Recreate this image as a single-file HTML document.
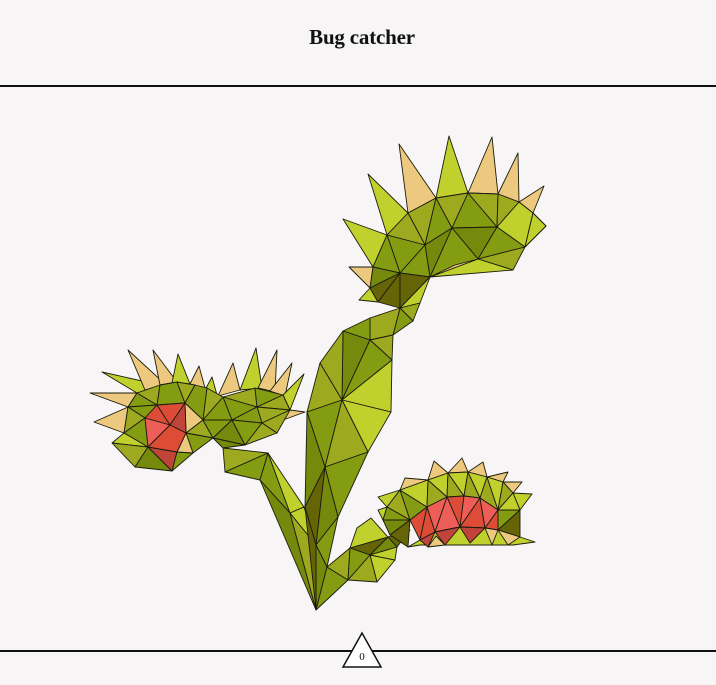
<!DOCTYPE html>
<html><head><meta charset="utf-8"><style>
html,body{margin:0;padding:0;background:#f7f5f6;}
#wrap{position:relative;width:716px;height:685px;overflow:hidden;background:#f7f5f6;}
#title{position:absolute;left:0;top:25px;width:724px;text-align:center;font-family:"Liberation Serif",serif;font-weight:bold;font-size:21px;color:#111;letter-spacing:-0.2px;}
svg{position:absolute;left:0;top:0;}
</style></head><body>
<div id="wrap">
<div id="title">Bug catcher</div>
<svg id="svg" width="716" height="685">
<line x1="0" y1="86" x2="716" y2="86" stroke="#111" stroke-width="2"/>
<line x1="0" y1="651" x2="716" y2="651" stroke="#111" stroke-width="2"/>
<g id="plant"></g>
<g>
<polygon points="362,633 343,667 381,667" fill="#fff" stroke="#111" stroke-width="1.5"/>
<text x="362" y="660" text-anchor="middle" font-family="Liberation Serif, serif" font-size="11" fill="#111">0</text>
</g>
</svg>
</div>
<script>
const C={L:"#c0d12e",M:"#9daa1f",G:"#849c12",D:"#758a0c",K:"#656508",T:"#ecc97e",R:"#dc4c37",P:"#ed5e58",Q:"#c0443a"};
const spikes=[
["T","399,144 408,213 436,198"],["L","449,136 436,198 468,193"],["T","492,137 468,193 498,194"],
["T","518,153 498,194 519,202"],["T","544,186 519,202 533,213"],["L","546,226 533,213 525,247"],
["L","368,174 408,213 387,235"],["L","343,219 387,235 373,267"],["T","349,267 373,267 370,288"],
["L","359,300 370,288 378,302"],
["T","94,422 124,433 128,407"],["T","90,393 128,407 137,393"],["L","102,372 137,393 160,385"],
["T","128,350 145,390 165,384"],["T","153,350 160,385 177,382"],["L","178,354 172,383 190,384"],
["T","199,366 190,384 205,388"],["L","212,377 205,390 217,395"],["T","233,363 218,396 240,390"],
["L","256,348 240,390 262,388"],["T","277,350 258,388 275,392"],["T","292,363 270,391 285,396"],
["L","304,374 283,395 290,410"],["T","305,412 290,410 283,420"],
["T","434,461 428,480 448,473"],["T","462,458 448,473 468,472"],["T","483,462 468,472 487,477"],
["T","508,472 487,477 503,482"],["T","522,482 503,482 513,493"],["L","532,494 513,493 520,510"],
["L","378,497 387,507 400,490"],["T","405,478 400,490 428,480"],["L","378,510 383,520 387,507"]
];
const facets=[
["M","408,213 436,198 425,245"],["G","436,198 452,228 425,245"],["M","436,198 468,193 452,228"],
["G","468,193 497,227 452,228"],["M","468,193 498,194 497,227"],["M","498,194 519,202 497,227"],
["L","519,202 533,213 525,247 497,227"],["L","533,213 546,226 525,247"],["D","452,228 497,227 478,259"],
["G","497,227 525,247 478,259"],["M","525,247 513,270 478,259"],["G","452,228 478,259 430,277"],
["D","425,245 452,228 430,277"],["M","408,213 425,245 387,235"],["G","387,235 425,245 400,273"],
["G","425,245 430,277 400,273"],["G","387,235 400,273 373,267"],["D","373,267 400,273 370,288"],
["K","370,288 400,273 378,302"],["K","378,302 400,273 400,308"],["K","400,273 430,277 400,308"],
["L","478,259 513,270 430,277"],["T","478,259 430,277 455,265"],["L","430,277 400,308 420,303"],
["M","400,308 420,303 413,321"],["G","400,308 413,321 393,335"],["M","400,308 393,335 370,340 370,318"],
["G","370,318 370,340 343,331"],["D","343,331 370,340 342,400"],["M","370,340 393,335 392,360"],
["G","370,340 392,360 342,400"],["M","343,331 342,400 320,363"],["M","320,363 342,400 307,412"],
["L","342,400 392,360 391,412"],["L","342,400 391,412 368,452"],["G","307,412 342,400 325,467"],
["M","342,400 368,452 325,467"],["D","307,412 325,467 305,507"],["G","325,467 368,452 338,517"],
["K","305,507 325,467 316,545"],["D","325,467 338,517 316,545"],["G","316,545 338,517 327,567"],
["D","316,545 327,567 316,610"],
["M","223,448 268,453 225,472"],["G","225,472 268,453 260,480"],["G","260,480 268,453 290,513"],
["L","268,453 304,507 290,513"],["D","260,480 290,513 316,610"],["M","290,513 316,545 316,610"],
["L","290,513 304,507 316,545"],["K","305,507 316,545 316,610"],
["G","316,610 327,567 348,580"],["M","327,567 350,548 348,580"],["K","350,548 388,537 370,555"],
["G","350,548 370,555 348,580"],["L","370,555 395,560 377,582"],["M","348,580 370,555 377,582"],
["L","350,548 357,528 371,518 388,537"],["D","388,537 397,547 370,555"],["L","370,555 397,547 395,560"],
["K","388,537 410,530 397,547"],
["G","128,407 137,393 157,405"],["G","128,407 157,405 145,418"],["M","128,407 145,418 124,433"],
["G","124,433 145,418 148,447"],["L","124,433 148,447 112,443"],["M","112,443 148,447 135,467"],
["D","135,467 148,447 172,471"],["Q","148,447 177,452 172,471"],["G","172,471 177,452 193,453"],
["M","137,393 160,385 157,405"],["G","160,385 177,382 185,403 157,405"],["M","177,382 195,385 185,403"],
["G","195,385 207,388 203,420 185,403"],["T","185,403 203,420 186,433"],["M","186,433 203,420 213,438"],
["G","186,433 213,438 193,453"],["T","186,433 193,453 177,452"],
["R","145,418 157,405 170,425"],["R","157,405 185,403 170,425"],["Q","185,403 186,433 170,425"],
["P","145,418 170,425 148,447"],["R","170,425 186,433 177,452 148,447"],
["M","207,388 223,397 203,420"],["G","223,397 232,420 203,420"],["G","203,420 232,420 213,438"],
["M","223,397 255,388 257,407"],["G","223,397 257,407 232,420"],["G","255,388 283,395 257,407"],
["M","283,395 290,410 257,407"],["M","257,407 290,410 262,423"],["M","290,410 277,433 262,423"],
["G","232,420 257,407 262,423"],["D","213,438 232,420 245,445"],["G","232,420 262,423 245,445"],
["M","262,423 277,433 245,445"],["D","213,438 245,445 223,448"],
["M","387,507 400,490 410,520"],["G","400,490 427,507 410,520"],["L","400,490 428,480 427,507"],
["M","428,480 447,497 427,507"],["L","428,480 448,473 447,497"],["M","448,473 464,496 447,497"],
["L","448,473 468,472 464,496"],["M","468,472 480,498 464,496"],["L","468,472 487,477 480,498"],
["M","487,477 498,510 480,498"],["L","487,477 503,482 498,510"],["M","503,482 513,493 498,510"],
["L","513,493 520,510 498,510"],["G","520,510 498,530 498,510"],["K","520,510 520,537 498,530"],
["G","383,520 387,507 410,520"],["D","383,520 410,520 390,535"],["K","390,535 410,520 408,547"],
["R","410,520 427,507 420,540"],["P","427,507 447,497 435,532"],["R","427,507 435,532 420,540"],
["R","447,497 464,496 460,527"],["P","447,497 460,527 435,532"],["P","464,496 480,498 460,527"],
["R","480,498 485,528 460,527"],["P","480,498 498,510 485,528"],["R","498,510 498,530 485,528"],
["L","408,547 420,540 435,532 460,527 485,528 498,530 520,537 535,542 513,545 420,545"],
["Q","420,540 435,532 428,547"],["Q","435,532 460,527 445,545"],["Q","460,527 485,528 470,543"],
["T","485,528 498,530 492,545"],["T","498,530 520,537 508,545"],["T","428,547 445,545 436,536"]
];
const g=document.getElementById('plant');
const NS="http://www.w3.org/2000/svg";
spikes.concat(facets).forEach(function(f,i){
  const p=document.createElementNS(NS,'polygon');
  p.setAttribute('points',f[1]);
  p.setAttribute('fill',C[f[0]]);
  p.setAttribute('stroke','#1b1b0e');
  p.setAttribute('stroke-width','0.9');
  p.setAttribute('stroke-linejoin','round');
  
  
  g.appendChild(p);
});
</script>
</body></html>
